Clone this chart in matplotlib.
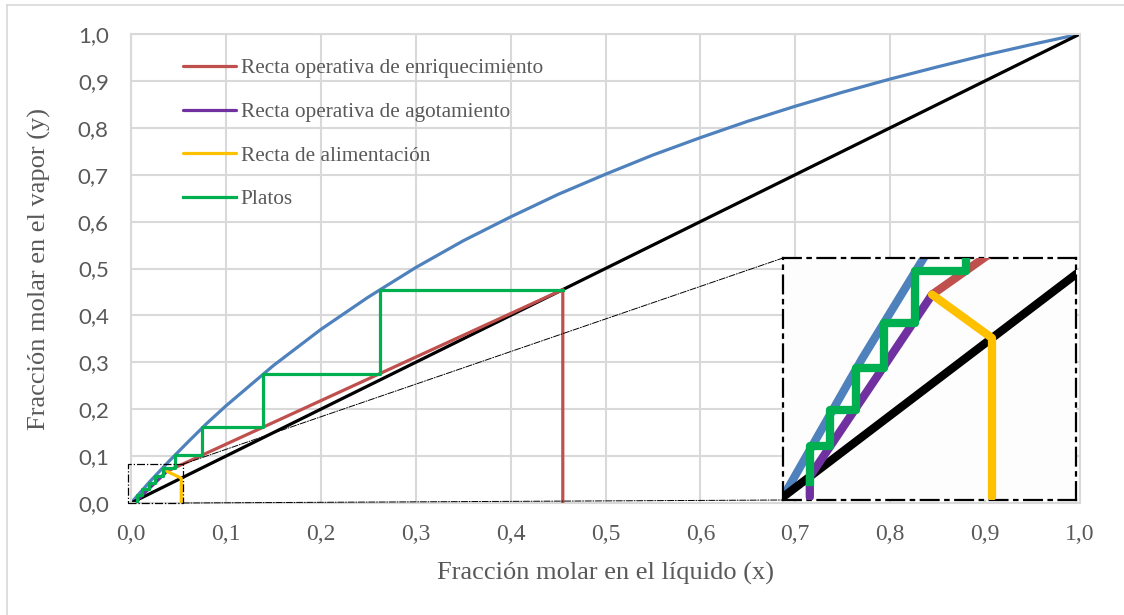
import matplotlib
matplotlib.use("Agg")
import matplotlib.pyplot as plt
from matplotlib.patches import Rectangle, ConnectionPatch
from matplotlib.lines import Line2D

# ---------------- data ----------------
eq_x = [0.0, 0.02, 0.04, 0.06, 0.08, 0.10, 0.15, 0.20, 0.25, 0.30, 0.35, 0.40,
        0.45, 0.50, 0.55, 0.60, 0.65, 0.70, 0.75, 0.80, 0.85, 0.90, 0.95, 1.0]
eq_y = [0.0, 0.046, 0.089, 0.130, 0.170, 0.207, 0.293, 0.370, 0.439, 0.502, 0.559, 0.610,
        0.658, 0.701, 0.742, 0.779, 0.814, 0.846, 0.876, 0.904, 0.930, 0.955, 0.978, 1.0]

diag_x = [0.0, 1.0]
diag_y = [0.0, 1.0]

enr_x = [0.455, 0.455, 0.0378]
enr_y = [0.0, 0.455, 0.0675]

agot_x = [0.0068, 0.0068, 0.0378]
agot_y = [0.0, 0.0068, 0.0675]

alim_x = [0.053, 0.053, 0.0378]
alim_y = [0.0, 0.053, 0.0675]

platos_x = [0.455, 0.262, 0.262, 0.139, 0.139, 0.075, 0.075, 0.0465, 0.0465,
            0.0335, 0.0335, 0.0255, 0.0255, 0.0185, 0.0185, 0.012, 0.012, 0.0068, 0.0068]
platos_y = [0.455, 0.455, 0.276, 0.276, 0.161, 0.161, 0.102, 0.102, 0.0755,
            0.0755, 0.058, 0.058, 0.043, 0.043, 0.029, 0.029, 0.017, 0.017, 0.005]

ticks = [0.0, 0.1, 0.2, 0.3, 0.4, 0.5, 0.6, 0.7, 0.8, 0.9, 1.0]
tick_labels = ["0,0", "0,1", "0,2", "0,3", "0,4", "0,5", "0,6", "0,7", "0,8", "0,9", "1,0"]

labels = ["Recta operativa de enriquecimiento", "Recta operativa de agotamiento",
          "Recta de alimentación", "Platos"]

# zoom window (data units)
zoom_x = [-0.003, 0.055]
zoom_y = [0.0, 0.083]
inset_xlim = [0.0, 0.0743]
inset_ylim = [-0.001, 0.0797]

# ---------------- style ----------------
C_BLUE = "#4F81BD"
C_RED = "#C0504D"
C_PURPLE = "#7030A0"
C_YELLOW = "#FFC000"
C_GREEN = "#00B050"
C_GRID = "#D9D9D9"
C_TEXT = "#595959"
SERIF = ["Liberation Serif", "DejaVu Serif"]

W, H = 1124, 615
fig = plt.figure(figsize=(W / 100, H / 100), dpi=100)
fig.patch.set_facecolor("white")

ax = fig.add_axes([131 / W, 1 - 503 / H, 949 / W, 469 / H])
ax.set_xlim(0, 1)
ax.set_ylim(0, 1)
ax.set_xticks(ticks)
ax.set_yticks(ticks)
ax.set_xticklabels(tick_labels, fontfamily=SERIF, fontsize=17, color=C_TEXT)
ax.set_yticklabels(tick_labels, fontfamily=["Lato", "DejaVu Sans"], fontsize=16, color=C_TEXT)
ax.tick_params(length=0)
ax.tick_params(axis="x", pad=15)
ax.tick_params(axis="y", pad=16)
ax.grid(True, color=C_GRID, linewidth=1.5)
ax.set_axisbelow(True)
for s in ax.spines.values():
    s.set_color(C_GRID)
    s.set_linewidth(1.5)

ax.set_xlabel("Fracción molar en el líquido (x)", fontfamily=SERIF, fontsize=19,
              color=C_TEXT, labelpad=12)
ax.set_ylabel("Fracción molar en el vapor (y)", fontfamily=SERIF, fontsize=19,
              color=C_TEXT, labelpad=19)


def draw(a, lw_scale):
    a.plot(eq_x, eq_y, color=C_BLUE, lw=2.3 * lw_scale, solid_capstyle="round", zorder=2)
    a.plot(diag_x, diag_y, color="black", lw=2.3 * lw_scale, zorder=2)
    l1, = a.plot(enr_x, enr_y, color=C_RED, lw=2.3 * lw_scale, zorder=3,
                 solid_capstyle="round", label=labels[0])
    l2, = a.plot(agot_x, agot_y, color=C_PURPLE, lw=2.3 * lw_scale, zorder=3,
                 solid_capstyle="round", label=labels[1])
    l3, = a.plot(alim_x, alim_y, color=C_YELLOW, lw=2.3 * lw_scale, zorder=4,
                 solid_capstyle="round", label=labels[2])
    l4, = a.plot(platos_x, platos_y, color=C_GREEN, lw=2.3 * lw_scale, zorder=5,
                 label=labels[3])
    return [l1, l2, l3, l4]


handles = draw(ax, 1.0)

leg = ax.legend(handles=handles, loc="upper left", bbox_to_anchor=(0.055, 0.948),
                frameon=False, prop={"family": SERIF, "size": 15.3},
                handlelength=2.5, handletextpad=0.2, labelspacing=1.12,
                borderpad=0, borderaxespad=0)
for t in leg.get_texts():
    t.set_color(C_TEXT)

# small zoom rectangle in main axes
rect = Rectangle((zoom_x[0], zoom_y[0]), zoom_x[1] - zoom_x[0], zoom_y[1] - zoom_y[0],
                 fill=False, ec="black", lw=0.9, ls="-.", clip_on=False, zorder=6)
ax.add_patch(rect)

# inset axes
axins = fig.add_axes([783 / W, 1 - 500 / H, 293 / W, 242 / H])
axins.set_facecolor("#FDFDFD")
axins.set_xlim(inset_xlim)
axins.set_ylim(inset_ylim)
axins.set_xticks([])
axins.set_yticks([])
for s in axins.spines.values():
    s.set_linestyle((0, (8, 3, 1.5, 3)))
    s.set_linewidth(1.6)
    s.set_color("black")
draw(axins, 2.6)

for (xa, ya), (xb, yb) in [((zoom_x[1], zoom_y[1]), (0, 1)), ((zoom_x[1], zoom_y[0]), (0, 0))]:
    con = ConnectionPatch(xyA=(xa, ya), coordsA="data", axesA=ax,
                          xyB=(xb, yb), coordsB="axes fraction", axesB=axins,
                          color="black", lw=0.7, ls="-.", zorder=1)
    fig.add_artist(con)

# figure frame (left and top visible)
fig.add_artist(Line2D([7 / W, 7 / W], [0, 1 - 5 / H], color=C_GRID, lw=1.2))
fig.add_artist(Line2D([7 / W, 1], [1 - 5 / H, 1 - 5 / H], color=C_GRID, lw=1.2))

fig.savefig("out.png", dpi=100, facecolor="white")
